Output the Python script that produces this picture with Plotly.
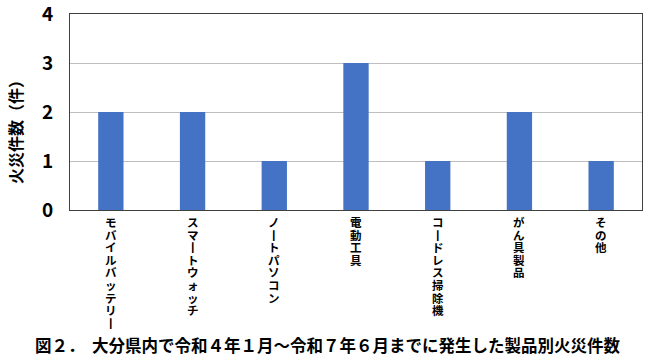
import plotly.graph_objects as go

categories = ["モバイルバッテリー", "スマートウォッチ", "ノートパソコン", "電動工具",
              "コードレス掃除機", "がん具製品", "その他"]
counts = [2, 2, 1, 3, 1, 2, 1]
y_ticks = [0, 1, 2, 3, 4]
y_title = "火災件数（件）"
caption = "図２．  大分県内で令和４年１月～令和７年６月までに発生した製品別火災件数"

FONT = "Noto Sans CJK JP"

W, H = 650, 361
ml, mr, mt, mb = 70, 8, 14, 151
plot_bottom = H - mb
plot_h = H - mt - mb

fig = go.Figure()
fig.add_trace(go.Bar(
    x=categories, y=counts,
    marker=dict(color="#4472C4", line=dict(width=0)),
    width=0.31,
))

fig.update_layout(
    width=W, height=H,
    margin=dict(l=ml, r=mr, t=mt, b=mb, autoexpand=False),
    paper_bgcolor="white", plot_bgcolor="white",
    showlegend=False,
    font=dict(family=FONT, color="black"),
    xaxis=dict(
        showticklabels=False, automargin=False,
        showline=True, linecolor="#404040", linewidth=1, mirror=True,
        ticks="", showgrid=False,
    ),
    yaxis=dict(
        range=[0, 4.0005], tickmode="array", tickvals=y_ticks,
        tickfont=dict(size=19, family=FONT, color="black", weight="bold"),
        ticklabeloverflow="allow", automargin=False,
        showline=True, linecolor="#404040", linewidth=1, mirror=True,
        showgrid=True, gridcolor="#BFBFBF", gridwidth=1,
        ticks="", ticklabelstandoff=12,
        zeroline=False,
    ),
)

# y-axis title
fig.add_annotation(
    text=y_title, xref="paper", yref="paper",
    x=-(ml - 15) / (W - ml - mr), y=(plot_bottom - 128) / plot_h,
    xanchor="center", yanchor="middle", textangle=-90, showarrow=False,
    font=dict(size=16, family=FONT, color="black", weight="bold"),
)

# vertical (tategaki-style) category labels: one upright character per line
start, step = 222, 12.6
for cat in categories:
    for i, ch in enumerate(cat.replace("ー", "丨")):
        fig.add_annotation(
            text=ch, xref="x", yref="paper", x=cat, y=0,
            yshift=-(start - plot_bottom + i * step),
            xanchor="center", yanchor="middle", showarrow=False,
            font=dict(size=11.5, family=FONT, color="black", weight="bold"),
        )

fig.add_annotation(
    text=caption, xref="paper", yref="paper",
    x=(327 - ml) / (W - ml - mr), y=-(345 - plot_bottom) / plot_h,
    xanchor="center", yanchor="middle", showarrow=False,
    font=dict(size=16.5, family=FONT, color="black", weight="bold"),
)

fig.write_html("out.html")
